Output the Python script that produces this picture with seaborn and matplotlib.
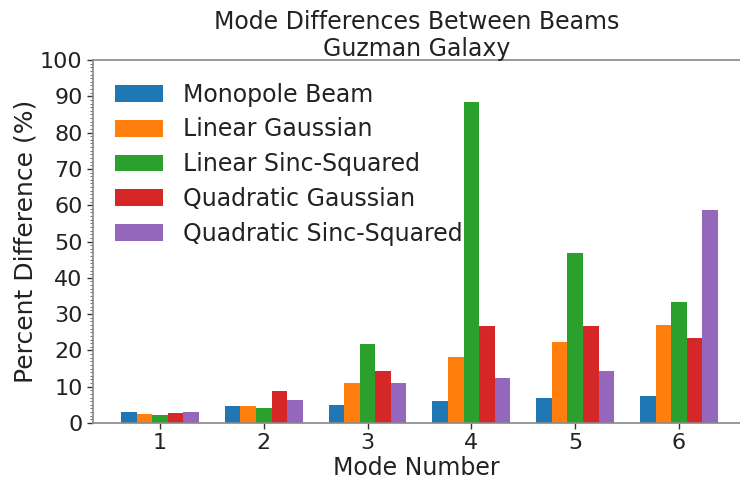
import matplotlib
matplotlib.use("Agg")
import matplotlib.pyplot as plt
from matplotlib.ticker import MultipleLocator
import seaborn as sns
import pandas as pd

modes = ["1", "2", "3", "4", "5", "6"]
monopole = [3.0, 4.8, 4.9, 6.0, 6.9, 7.4]
linear_gauss = [2.5, 4.8, 10.9, 18.1, 22.3, 27.1]
linear_sinc = [2.2, 4.2, 21.8, 88.5, 46.9, 33.2]
quad_gauss = [2.7, 8.9, 14.4, 26.7, 26.8, 23.4]
quad_sinc = [3.0, 6.4, 11.0, 12.4, 14.3, 58.7]
series_names = ["Monopole Beam", "Linear Gaussian", "Linear Sinc-Squared",
                "Quadratic Gaussian", "Quadratic Sinc-Squared"]
series_vals = [monopole, linear_gauss, linear_sinc, quad_gauss, quad_sinc]

rows = []
for name, vals in zip(series_names, series_vals):
    for m, v in zip(modes, vals):
        rows.append({"Mode": m, "Beam": name, "Value": v})
df = pd.DataFrame(rows)

sns.set_theme(style="white")
plt.rcParams['font.family'] = ['DejaVu Sans']

fig = plt.figure(figsize=(7.4, 4.79), dpi=100)
ax = fig.add_axes([93/740, 56/479, (740-93)/740, 363/479])

palette = ["#1f77b4", "#ff7f0e", "#2ca02c", "#d62728", "#9467bd"]
sns.barplot(data=df, x="Mode", y="Value", hue="Beam", hue_order=series_names,
            order=modes, palette=palette, saturation=1, width=0.75,
            linewidth=0, ax=ax)

ax.set_xlim(-0.645, 5.588)
ax.set_ylim(0, 100)
ax.yaxis.set_major_locator(MultipleLocator(10))
ax.yaxis.set_minor_locator(MultipleLocator(1))
ax.tick_params(axis='both', which='major', direction='out', length=4, width=1,
               color='#333333', labelsize=16, left=True, bottom=True, labelcolor='#222222')
ax.tick_params(axis='y', which='minor', direction='out', length=2, width=0.6,
               color='#555555', left=True)

for s in ['left', 'bottom', 'top']:
    ax.spines[s].set_color('#888888')
    ax.spines[s].set_linewidth(1.2)
ax.spines['right'].set_visible(False)

ax.set_xlabel("Mode Number", fontsize=17, color='#222222', labelpad=2)
ax.set_ylabel("Percent Difference (%)", fontsize=18, color='#222222', labelpad=2)
ax.set_title("Mode Differences Between Beams\nGuzman Galaxy", fontsize=17,
             color='#222222', pad=3, linespacing=1.15)

leg = ax.legend(loc='upper left', frameon=False, fontsize=17, handlelength=2.03,
                handleheight=0.72, labelspacing=0.46, handletextpad=0.85,
                borderaxespad=0, bbox_to_anchor=(0.0195, 0.964))
for t in leg.get_texts():
    t.set_color('#222222')

fig.savefig("out.png", dpi=100)
